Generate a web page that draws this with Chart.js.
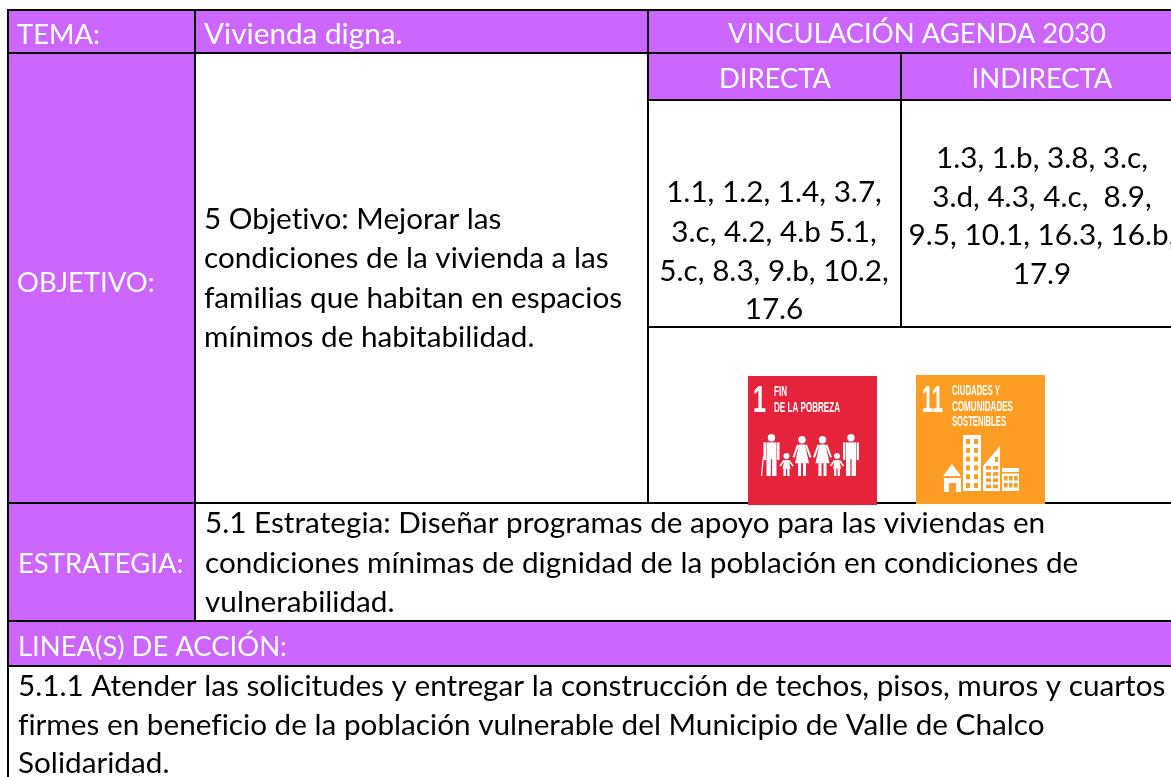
<!DOCTYPE html>
<html lang="es">
<head>
<meta charset="utf-8">
<title>Vivienda digna</title>
<script src="https://cdn.jsdelivr.net/npm/chart.js@4"></script>
<style>
  html, body { margin: 0; padding: 0; background: #fff; overflow: hidden; }
  canvas { display: block; }
</style>
</head>
<body>
<canvas id="tabla" width="1171" height="777"></canvas>
<script>
// Textos de la ficha
const etiquetas = ['TEMA:', 'OBJETIVO:', 'ESTRATEGIA:', 'LINEA(S) DE ACCIÓN:'];
const tema = 'Vivienda digna.';
const encabezados = ['VINCULACIÓN AGENDA 2030', 'DIRECTA', 'INDIRECTA'];
const objetivo = ['5 Objetivo: Mejorar las', 'condiciones de la vivienda a las', 'familias que habitan en espacios', 'mínimos de habitabilidad.'];
const directa = ['1.1, 1.2, 1.4, 3.7,', '3.c, 4.2, 4.b 5.1,', '5.c, 8.3, 9.b, 10.2,', '17.6'];
const indirecta = ['1.3, 1.b, 3.8, 3.c,', '3.d, 4.3, 4.c,  8.9,', '9.5, 10.1, 16.3, 16.b,', '17.9'];
const estrategia = ['5.1 Estrategia: Diseñar programas de apoyo para las viviendas en', 'condiciones mínimas de dignidad de la población en condiciones de', 'vulnerabilidad.'];
const lineas = ['5.1.1 Atender las solicitudes y entregar la construcción de techos, pisos, muros y cuartos', 'firmes en beneficio de la población vulnerable del Municipio de Valle de Chalco', 'Solidaridad.'];
const ods1 = ['1', 'FIN', 'DE LA POBREZA'];
const ods11 = ['11', 'CIUDADES Y', 'COMUNIDADES', 'SOSTENIBLES'];

// Retícula de la tabla, en las unidades de las escalas
const reglasH = [[10, 8, 1171], [53, 8, 1171], [100, 648, 1171], [327, 648, 1171], [503, 8, 1171], [621, 8, 1171], [666, 8, 1171]];
const reglasV = [[8, 9, 777], [195, 10, 621], [648, 10, 503], [901, 53, 327]];
const celdasMoradas = [[8, 195, 10, 621], [195, 648, 10, 53], [648, 1171, 10, 100], [8, 1171, 621, 666]];

const MORADO = '#CC66FF';
const FUENTE = '29.7px Lato, sans-serif';
const MAYUS = '27.4px Lato, sans-serif';
const ANGOSTA = 'bold 14px "Liberation Sans Narrow", "Liberation Sans", sans-serif';
const NUMERO = 'bold 36px "Liberation Sans Narrow", "Liberation Sans", sans-serif';

function renglones(ctx, x, y, lista, baselines, color, align) {
    ctx.fillStyle = color;
    ctx.textAlign = align || 'left';
    ctx.textBaseline = 'alphabetic';
    lista.forEach((t, i) => ctx.fillText(t, x(0), y(baselines[i])));
}

function trazo(ctx, px, py, x1, y1, x2, y2, g) {
    ctx.lineWidth = g;
    ctx.beginPath();
    ctx.moveTo(px(x1), py(y1));
    ctx.lineTo(px(x2), py(y2));
    ctx.stroke();
}

function persona(ctx, px, py, cx, cabeza, pies, tipo) {
    const h = pies - cabeza;
    const r = tipo === 'nino' ? 3 : 3.7;
    ctx.beginPath();
    ctx.arc(px(cx), py(cabeza + r), r, 0, Math.PI * 2);
    ctx.fill();
    const hombro = cabeza + 2 * r + 1;
    if (tipo === 'hombre') {
        ctx.fillRect(px(cx - 5), py(hombro), 10, h * 0.4);
        ctx.fillRect(px(cx - 5), py(hombro + h * 0.38), 4.4, pies - hombro - h * 0.38);
        ctx.fillRect(px(cx + 0.6), py(hombro + h * 0.38), 4.4, pies - hombro - h * 0.38);
        ctx.fillRect(px(cx - 8), py(hombro), 2.4, h * 0.42);
        ctx.fillRect(px(cx + 5.6), py(hombro), 2.4, h * 0.42);
    } else if (tipo === 'mujer') {
        const falda = cabeza + h * 0.68;
        ctx.beginPath();
        ctx.moveTo(px(cx - 3), py(hombro));
        ctx.lineTo(px(cx + 3), py(hombro));
        ctx.lineTo(px(cx + 7), py(falda));
        ctx.lineTo(px(cx - 7), py(falda));
        ctx.closePath();
        ctx.fill();
        ctx.fillRect(px(cx - 4), py(falda), 3, pies - falda);
        ctx.fillRect(px(cx + 1), py(falda), 3, pies - falda);
        trazo(ctx, px, py, cx - 4, hombro + 0.5, cx - 8.5, hombro + 13, 2);
        trazo(ctx, px, py, cx + 4, hombro + 0.5, cx + 8.5, hombro + 13, 2);
    } else {
        const falda = cabeza + h * 0.68;
        ctx.beginPath();
        ctx.moveTo(px(cx - 2.2), py(hombro));
        ctx.lineTo(px(cx + 2.2), py(hombro));
        ctx.lineTo(px(cx + 4), py(falda));
        ctx.lineTo(px(cx - 4), py(falda));
        ctx.closePath();
        ctx.fill();
        ctx.fillRect(px(cx - 3), py(falda), 2.4, pies - falda);
        ctx.fillRect(px(cx + 0.6), py(falda), 2.4, pies - falda);
        trazo(ctx, px, py, cx - 2.5, hombro + 0.5, cx - 6.5, hombro + 6, 1.6);
        trazo(ctx, px, py, cx + 2.5, hombro + 0.5, cx + 6.5, hombro + 6, 1.6);
    }
}

function edificios(ctx, px, py) {
    ctx.fillStyle = '#fff';
    // casa
    ctx.beginPath();
    ctx.moveTo(px(943), py(476));
    ctx.lineTo(px(952), py(464));
    ctx.lineTo(px(961), py(476));
    ctx.closePath();
    ctx.fill();
    ctx.fillRect(px(944), py(478), 17, 14);
    // torre, edificio diagonal y bajo
    ctx.fillRect(px(963), py(435), 18, 56);
    ctx.beginPath();
    ctx.moveTo(px(983), py(491));
    ctx.lineTo(px(983), py(466));
    ctx.lineTo(px(1000), py(446));
    ctx.lineTo(px(1000), py(491));
    ctx.closePath();
    ctx.fill();
    ctx.fillRect(px(1002), py(468), 17, 23);
    ctx.fillStyle = '#FD9D24';
    ctx.fillRect(px(949), py(483), 7, 9);
    for (let f = 0; f < 6; f++) {
        ctx.fillRect(px(966), py(439 + f * 8.8), 4, 5);
        ctx.fillRect(px(974), py(439 + f * 8.8), 4, 5);
    }
    for (let f = 0; f < 4; f++) {
        ctx.fillRect(px(986), py(466 + f * 6.2), 5, 3.6);
        ctx.fillRect(px(993), py(466 + f * 6.2), 5, 3.6);
    }
    ctx.fillRect(px(995), py(457), 3, 5);
    ctx.fillRect(px(1002), py(472), 17, 1.5);
    for (let f = 0; f < 2; f++) {
        [1004, 1009, 1014].forEach(x => ctx.fillRect(px(x), py(476 + f * 7), 3.6, 4.5));
    }
}

// Fondos morados antes de las reglas; textos e iconos encima
const fichaPlugin = {
    id: 'ficha',
    beforeDatasetsDraw(chart) {
        const { ctx, scales: { x, y } } = chart;
        const px = v => x.getPixelForValue(v);
        const py = v => y.getPixelForValue(v);
        ctx.save();
        ctx.fillStyle = MORADO;
        celdasMoradas.forEach(c => ctx.fillRect(px(c[0]), py(c[2]), px(c[1]) - px(c[0]), py(c[3]) - py(c[2])));
        ctx.restore();
    },
    afterDatasetsDraw(chart) {
        const { ctx, scales: { x, y } } = chart;
        const px = v => x.getPixelForValue(v);
        const py = v => y.getPixelForValue(v);
        const en = v => () => px(v);
        ctx.save();
        ctx.font = MAYUS;
        ctx.letterSpacing = '0.01px'; // sin ligaduras

        renglones(ctx, en(17), py, [etiquetas[0]], [44], '#fff');
        renglones(ctx, en(17), py, [etiquetas[1]], [292], '#fff');
        renglones(ctx, en(18), py, [etiquetas[2]], [573], '#fff');
        renglones(ctx, en(18), py, [etiquetas[3]], [656], '#fff');
        renglones(ctx, en(917), py, [encabezados[0]], [43], '#fff', 'center');
        renglones(ctx, en(775), py, [encabezados[1]], [88], '#fff', 'center');
        renglones(ctx, en(1042), py, [encabezados[2]], [88], '#fff', 'center');

        ctx.font = FUENTE;
        renglones(ctx, en(204), py, [tema], [44], '#fff');
        renglones(ctx, en(204), py, objetivo, [229, 268, 308, 347], '#000');
        renglones(ctx, en(774), py, directa, [202, 242, 281, 319], '#000', 'center');
        renglones(ctx, en(1042), py, indirecta, [168, 207, 245, 284], '#000', 'center');
        renglones(ctx, en(205), py, estrategia, [533, 573, 612], '#000');
        renglones(ctx, en(18), py, lineas, [696, 735, 773], '#000');
        ctx.letterSpacing = '0px';

        // ODS 1
        ctx.fillStyle = '#E5243B';
        ctx.fillRect(px(748), py(376), 129, 129);
        ctx.fillStyle = '#fff';
        ctx.strokeStyle = '#fff';
        ctx.textAlign = 'left';
        ctx.font = NUMERO;
        ctx.fillText(ods1[0], px(753), py(412), 13);
        ctx.font = ANGOSTA;
        ctx.fillText(ods1[1], px(774), py(396), 13);
        ctx.fillText(ods1[2], px(774), py(412), 66);
        persona(ctx, px, py, 771.5, 434, 476, 'hombre');
        persona(ctx, px, py, 786.5, 453, 476, 'nino');
        persona(ctx, px, py, 802, 436, 476, 'mujer');
        persona(ctx, px, py, 822.5, 436, 476, 'mujer');
        persona(ctx, px, py, 837, 453, 476, 'nino');
        persona(ctx, px, py, 851, 434, 476, 'hombre');
        trazo(ctx, px, py, 763.5, 456, 761.5, 476, 1.2);

        // ODS 11
        ctx.fillStyle = '#FD9D24';
        ctx.fillRect(px(916), py(375), 129, 129);
        ctx.fillStyle = '#fff';
        ctx.font = NUMERO;
        ctx.fillText(ods11[0], px(922), py(412), 21);
        ctx.font = ANGOSTA;
        ctx.fillText(ods11[1], px(952), py(395), 48);
        ctx.fillText(ods11[2], px(952), py(411), 61);
        ctx.fillText(ods11[3], px(952), py(426), 54);
        edificios(ctx, px, py);
        ctx.restore();
    }
};

const reglas = [
    ...reglasH.map(r => [{ x: r[1], y: r[0] }, { x: r[2], y: r[0] }]),
    ...reglasV.map(r => [{ x: r[0], y: r[1] }, { x: r[0], y: r[2] }])
];

new Chart(document.getElementById('tabla').getContext('2d'), {
    type: 'scatter',
    data: {
        datasets: reglas.map(puntos => ({
            data: puntos,
            showLine: true,
            borderColor: '#000',
            borderWidth: 2,
            pointRadius: 0
        }))
    },
    options: {
        responsive: false,
        animation: false,
        layout: { padding: 0 },
        plugins: { legend: { display: false }, tooltip: { enabled: false } },
        scales: {
            x: { type: 'linear', min: 0, max: 1171, display: false },
            y: { type: 'linear', min: 0, max: 777, reverse: true, display: false }
        }
    },
    plugins: [fichaPlugin]
});
</script>
</body>
</html>
